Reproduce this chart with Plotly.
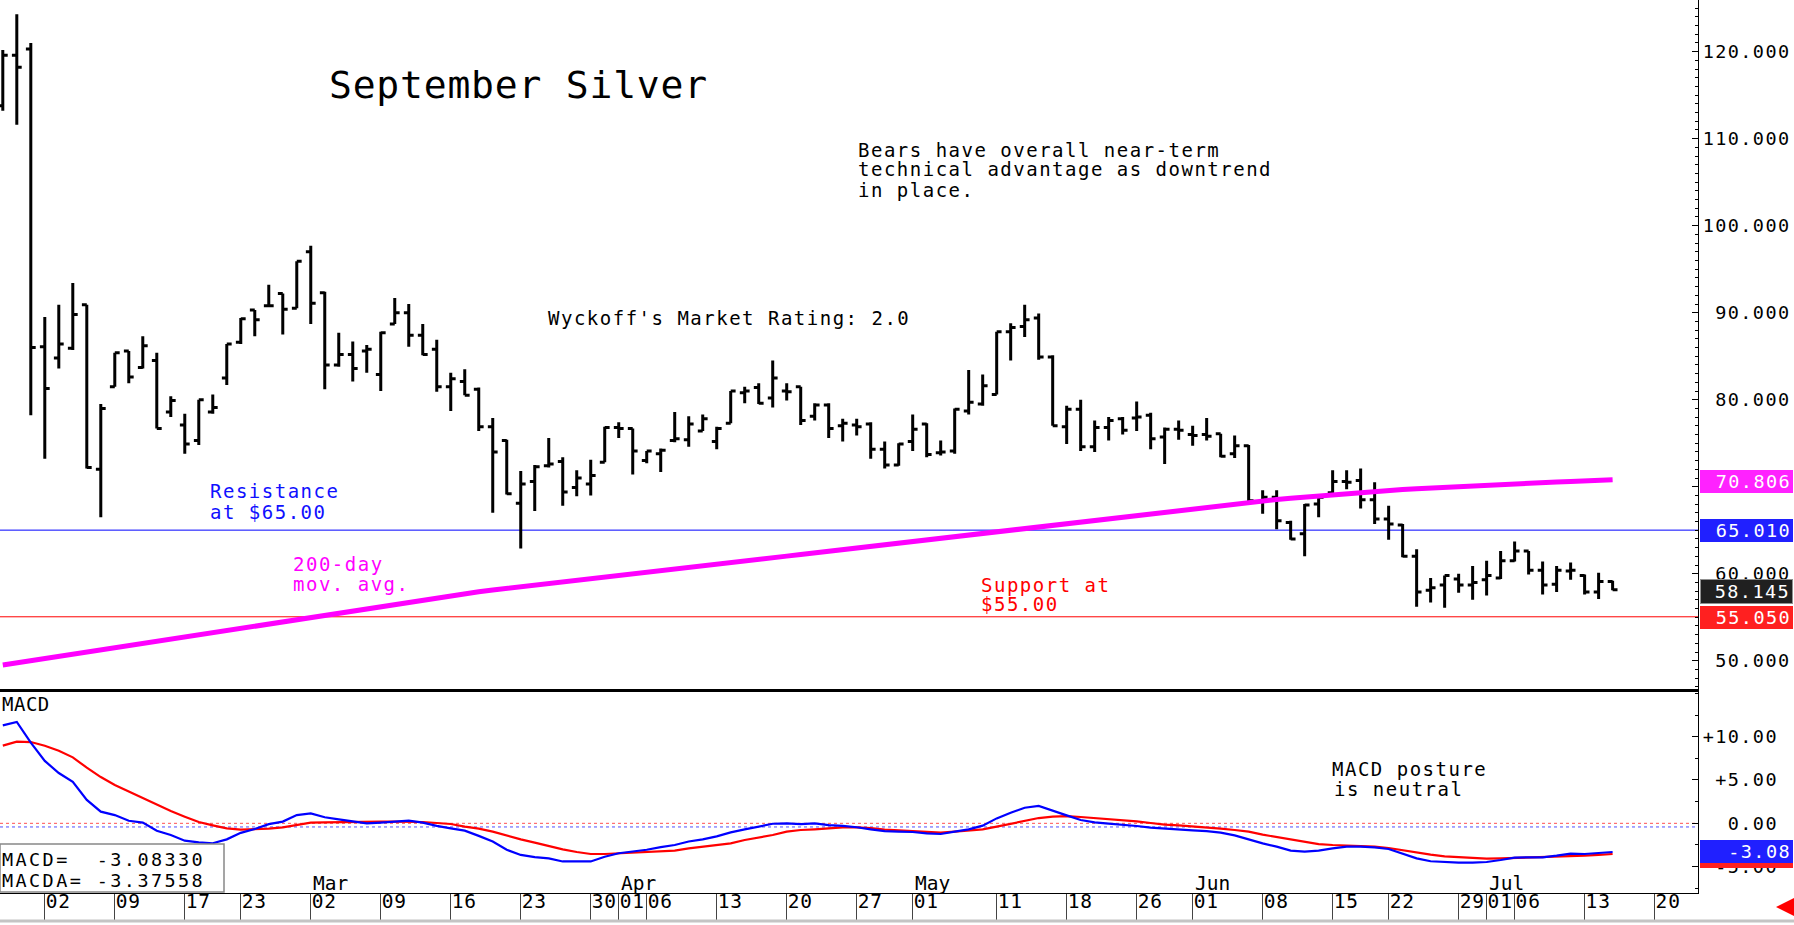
import plotly.graph_objects as go
import pandas as pd

W, H = 1794, 925
FONT = "DejaVu Sans Mono"

# ---------------- data ----------------
holidays = ['2026-02-16', '2026-04-03', '2026-05-25', '2026-06-19', '2026-07-03']
dates = [d.strftime('%Y-%m-%d') for d in pd.bdate_range('2026-01-28', '2026-07-22')
         if d.strftime('%Y-%m-%d') not in holidays]

opens = [113.8, 119.6, 120.3, 86.1, 84.8, 85.9, 90.9, 72.0, 81.5, 85.6,
         83.7, 84.5, 78.6, 77.1, 75.3, 78.6, 82.5, 86.6, 90.3, 90.8,
         92.2, 90.5, 97.0, 92.3, 84.0, 85.2, 85.6, 82.9, 88.7, 90.0,
         87.4, 85.8, 81.5, 82.1, 81.2, 76.9, 75.3, 68.1, 70.6, 72.4,
         72.9, 69.9, 70.3, 72.8, 76.8, 76.7, 73.0, 73.8, 75.3, 75.4,
         76.4, 75.2, 77.3, 80.8, 81.4, 80.2, 81.0, 81.5, 78.1, 79.4,
         77.0, 77.1, 77.2, 74.3, 72.5, 75.2, 77.2, 73.9, 74.1, 78.7,
         79.5, 80.6, 87.8, 88.4, 89.4, 84.9, 76.9, 78.9, 74.6, 76.8,
         77.8, 77.9, 78.2, 75.7, 76.6, 76.0, 76.0, 76.1, 73.8, 74.7,
         68.3, 68.8, 65.9, 64.6, 68.0, 69.3, 70.6, 70.7, 68.5, 66.3,
         65.6, 62.0, 58.1, 58.7, 59.4, 58.7, 59.3, 59.5, 61.5, 62.6,
         60.4, 58.8, 60.3, 59.8, 57.9, 59.1]
highs = [120.2, 124.3, 121.0, 89.5, 90.9, 93.4, 90.9, 79.5, 85.4, 85.6,
         87.3, 85.4, 80.4, 78.4, 80.0, 80.6, 86.4, 89.4, 90.3, 93.2,
         92.2, 95.9, 97.7, 92.4, 87.7, 86.7, 86.3, 87.8, 91.7, 91.0,
         88.7, 86.9, 83.1, 83.5, 81.4, 77.9, 75.4, 71.8, 72.5, 75.6,
         73.4, 71.9, 73.1, 76.9, 77.4, 76.7, 74.1, 74.4, 78.6, 78.1,
         78.3, 76.9, 81.0, 81.5, 81.9, 84.5, 81.9, 81.5, 79.6, 79.6,
         77.8, 77.8, 77.4, 75.2, 75.0, 78.3, 77.3, 75.3, 79.0, 83.4,
         82.9, 87.8, 88.8, 90.9, 89.9, 85.1, 79.3, 80.0, 77.6, 78.0,
         78.0, 79.8, 78.5, 76.8, 77.6, 77.0, 77.9, 76.1, 75.9, 74.8,
         69.6, 69.6, 66.1, 68.0, 68.8, 71.9, 71.9, 72.1, 70.5, 67.8,
         65.7, 62.8, 59.5, 59.8, 60.0, 60.9, 61.5, 62.6, 63.7, 62.6,
         61.4, 60.9, 61.3, 59.9, 60.1, 59.2]
lows = [113.2, 111.6, 78.2, 73.2, 83.6, 85.7, 72.1, 66.5, 81.5, 81.9,
        83.6, 76.7, 78.0, 73.8, 74.8, 78.4, 81.7, 86.4, 87.3, 90.7,
        87.5, 90.5, 88.7, 81.2, 83.8, 82.1, 83.1, 81.0, 88.7, 86.1,
        85.1, 80.9, 78.7, 80.5, 76.4, 67.0, 69.1, 62.9, 67.2, 72.2,
        67.8, 68.9, 69.0, 72.8, 75.6, 71.4, 72.7, 71.7, 75.1, 74.6,
        76.4, 74.3, 77.3, 79.6, 79.5, 79.1, 79.9, 77.1, 77.6, 75.6,
        75.2, 75.9, 73.2, 72.1, 72.4, 74.1, 73.4, 73.6, 73.8, 78.3,
        79.3, 80.6, 84.5, 87.2, 84.6, 77.0, 74.9, 74.1, 74.0, 75.3,
        76.0, 76.4, 74.3, 72.6, 75.4, 74.7, 75.3, 73.4, 73.3, 68.2,
        66.9, 65.1, 63.9, 62.0, 66.5, 69.2, 69.7, 67.5, 65.7, 63.9,
        61.9, 56.2, 56.7, 56.1, 57.8, 57.0, 57.5, 59.4, 61.4, 59.9,
        57.6, 57.9, 59.3, 57.6, 57.1, 58.1]
closes = [119.6, 118.2, 86.0, 81.3, 86.4, 89.8, 72.2, 79.0, 85.4, 82.6,
          86.2, 76.7, 79.9, 74.9, 80.0, 79.1, 86.4, 89.3, 89.2, 90.8,
          90.4, 95.9, 91.1, 84.0, 85.2, 83.6, 85.8, 87.7, 90.0, 87.4,
          85.2, 81.5, 82.4, 80.5, 76.9, 74.0, 69.2, 70.3, 72.3, 72.6,
          69.4, 71.0, 71.3, 76.8, 76.7, 74.1, 74.1, 74.2, 75.5, 77.2,
          77.8, 76.7, 81.0, 81.0, 79.6, 82.5, 80.9, 77.6, 79.4, 76.7,
          77.3, 76.9, 74.3, 72.5, 74.9, 76.6, 73.7, 74.0, 78.9, 79.7,
          81.6, 87.8, 88.3, 89.2, 84.9, 77.0, 78.9, 74.6, 76.8, 77.6,
          76.5, 78.0, 75.5, 76.6, 76.5, 75.9, 75.8, 73.5, 74.7, 68.4,
          68.8, 66.1, 64.0, 67.9, 68.8, 70.6, 70.5, 68.5, 66.3, 65.7,
          62.0, 57.9, 58.4, 59.8, 58.7, 59.0, 59.8, 61.5, 62.6, 60.4,
          58.7, 60.4, 60.4, 57.9, 59.1, 58.145]
ma200 = [49.50, 49.75, 50.00, 50.26, 50.51, 50.76, 51.01, 51.26, 51.52, 51.77,
         52.02, 52.27, 52.52, 52.78, 53.03, 53.28, 53.53, 53.78, 54.04, 54.29,
         54.54, 54.79, 55.04, 55.30, 55.55, 55.80, 56.05, 56.30, 56.56, 56.81,
         57.06, 57.31, 57.56, 57.75, 57.93, 58.12, 58.30, 58.49, 58.68, 58.86,
         59.05, 59.23, 59.42, 59.61, 59.79, 59.98, 60.16, 60.35, 60.54, 60.72,
         60.91, 61.09, 61.28, 61.47, 61.65, 61.84, 62.02, 62.21, 62.40, 62.58,
         62.77, 62.95, 63.14, 63.33, 63.51, 63.70, 63.88, 64.07, 64.26, 64.44,
         64.63, 64.83, 65.02, 65.21, 65.40, 65.59, 65.78, 65.97, 66.16, 66.35,
         66.54, 66.73, 66.92, 67.11, 67.30, 67.49, 67.68, 67.87, 68.06, 68.25,
         68.39, 68.53, 68.67, 68.81, 68.94, 69.08, 69.22, 69.36, 69.50, 69.59,
         69.68, 69.77, 69.86, 69.94, 70.03, 70.12, 70.21, 70.30, 70.36, 70.43,
         70.49, 70.55, 70.61, 70.68, 70.74, 70.81]
macd = [11.3, 11.7, 9.3, 7.2, 5.8, 4.8, 2.7, 1.35, 0.95, 0.3,
        0.08, -0.85, -1.35, -2.0, -2.2, -2.3, -1.85, -1.1, -0.65, -0.1,
        0.2, 0.95, 1.15, 0.7, 0.45, 0.2, 0.0, 0.08, 0.2, 0.3,
        0.08, -0.3, -0.58, -0.85, -1.45, -2.1, -3.05, -3.65, -3.9, -4.05,
        -4.4, -4.4, -4.4, -3.85, -3.45, -3.25, -3.05, -2.75, -2.5, -2.1,
        -1.85, -1.5, -1.05, -0.7, -0.4, -0.05, 0.0, -0.1, 0.0, -0.2,
        -0.3, -0.45, -0.7, -0.9, -0.96, -1.0, -1.16, -1.23, -0.96, -0.69,
        -0.27, 0.57, 1.23, 1.8, 2.0, 1.42, 0.92, 0.38, 0.11, -0.04,
        -0.16, -0.31, -0.5, -0.62, -0.69, -0.81, -0.89, -1.08, -1.39, -1.89,
        -2.31, -2.69, -3.15, -3.27, -3.15, -2.89, -2.69, -2.69, -2.77, -2.96,
        -3.54, -4.04, -4.38, -4.5, -4.54, -4.54, -4.46, -4.23, -3.96, -3.92,
        -3.92, -3.73, -3.5, -3.54, -3.46, -3.31]
macda = [8.96, 9.42, 9.38, 8.96, 8.38, 7.61, 6.42, 5.34, 4.42, 3.65,
         2.92, 2.15, 1.42, 0.77, 0.15, -0.23, -0.58, -0.73, -0.69, -0.62,
         -0.46, -0.16, 0.08, 0.11, 0.15, 0.15, 0.15, 0.19, 0.19, 0.19,
         0.15, 0.04, -0.08, -0.39, -0.62, -0.96, -1.43, -1.85, -2.23, -2.62,
         -3.0, -3.31, -3.54, -3.54, -3.46, -3.39, -3.31, -3.27, -3.15, -2.89,
         -2.69, -2.5, -2.31, -1.92, -1.62, -1.35, -0.96, -0.77, -0.69, -0.58,
         -0.46, -0.46, -0.54, -0.73, -0.81, -0.89, -1.0, -1.08, -0.96, -0.85,
         -0.69, -0.39, -0.08, 0.31, 0.61, 0.77, 0.84, 0.73, 0.61, 0.5,
         0.38, 0.23, 0.04, -0.16, -0.23, -0.35, -0.42, -0.62, -0.77, -0.96,
         -1.31, -1.58, -1.89, -2.19, -2.39, -2.5, -2.54, -2.62, -2.69, -2.85,
         -3.12, -3.35, -3.62, -3.81, -3.89, -4.04, -4.08, -4.04, -4.0, -3.96,
         -3.92, -3.89, -3.81, -3.73, -3.65, -3.54]

tick_dates = ['2026-02-02', '2026-02-09', '2026-02-17', '2026-02-23', '2026-03-02',
              '2026-03-09', '2026-03-16', '2026-03-23', '2026-03-30', '2026-04-01',
              '2026-04-06', '2026-04-13', '2026-04-20', '2026-04-27', '2026-05-01',
              '2026-05-11', '2026-05-18', '2026-05-26', '2026-06-01', '2026-06-08',
              '2026-06-15', '2026-06-22', '2026-06-29', '2026-07-01', '2026-07-06',
              '2026-07-13', '2026-07-20']
month_dates = ['2026-03-02', '2026-04-01', '2026-05-01', '2026-06-01', '2026-07-01']
month_names = ['Mar', 'Apr', 'May', 'Jun', 'Jul']
price_ticks = [50, 60, 70, 80, 90, 100, 110, 120]
macd_ticks = [10, 5, 0, -5]

last_macd, last_macda = -3.08330, -3.37558
ma_last, resist, support, last_close = 70.806, 65.010, 55.050, 58.145

# ---------------- helpers ----------------
NB = '\u00a0'


def ls(t, px):
    return f'<span style="letter-spacing:{px}px">{t.replace(" ", NB)}</span>'


def PX(px):
    return px / W


def PY(py):
    return 1 - py / H


xs = list(range(len(opens)))
tick_idx = [dates.index(d) for d in tick_dates]
tick_txt = [ls(d[-2:], 0.8) for d in tick_dates]
XR = [-0.2, 121.1]
XDOM = [0, 1698 / W]
PRICE_DOM = [PY(689), 1]
MACD_DOM = [PY(893), PY(689)]
PRANGE = [46.75, 125.94]
MRANGE = [-8.04, 15.5]

fig = go.Figure()
fig.add_trace(go.Scatter(x=xs, y=ma200, mode='lines', line=dict(color='#ff00ff', width=5),
                         xaxis='x', yaxis='y', hoverinfo='skip', showlegend=False))
fig.add_trace(go.Ohlc(x=xs, open=opens, high=highs, low=lows, close=closes,
                      increasing=dict(line=dict(color='black', width=3)),
                      decreasing=dict(line=dict(color='black', width=3)),
                      tickwidth=0.35, xaxis='x', yaxis='y', showlegend=False, hoverinfo='skip'))
fig.add_trace(go.Scatter(x=xs, y=macda, mode='lines', line=dict(color='#ff0000', width=2.2),
                         xaxis='x2', yaxis='y2', showlegend=False, hoverinfo='skip'))
fig.add_trace(go.Scatter(x=xs, y=macd, mode='lines', line=dict(color='#0000ff', width=2.2),
                         xaxis='x2', yaxis='y2', showlegend=False, hoverinfo='skip'))

axfont = dict(family=FONT, size=18.5, color='black')
fig.update_layout(
    width=W, height=H, autosize=False,
    margin=dict(l=0, r=0, t=0, b=0),
    paper_bgcolor='white', plot_bgcolor='white', showlegend=False,
    xaxis=dict(domain=XDOM, range=XR, anchor='y', showticklabels=False, ticks='',
               showgrid=False, zeroline=False, showline=True, linecolor='black', linewidth=3,
               rangeslider=dict(visible=False), automargin=False),
    yaxis=dict(domain=PRICE_DOM, range=PRANGE, anchor='x', side='right',
               tickmode='array', tickvals=price_ticks,
               ticktext=[ls(f'{v:.3f}'.rjust(7), 1.4) for v in price_ticks],
               tickfont=axfont, ticks='inside', ticklen=6, tickcolor='black',
               minor=dict(dtick=1, ticklen=3, ticks='inside', tickcolor='black', showgrid=False),
               showgrid=False, zeroline=False, showline=True, linecolor='black', linewidth=1,
               automargin=False),
    xaxis2=dict(domain=XDOM, range=XR, anchor='y2', tickmode='array', tickvals=tick_idx,
                ticktext=tick_txt, ticklabelposition='outside right', tickangle=0,
                ticks='outside', ticklen=26, tickwidth=1, tickcolor='#444444',
                ticklabelstandoff=-9,
                tickfont=dict(family=FONT, size=19.5, color='black'),
                showgrid=False, zeroline=False, showline=True, linecolor='black', linewidth=1,
                rangeslider=dict(visible=False), automargin=False),
    yaxis2=dict(domain=MACD_DOM, range=MRANGE, anchor='x2', side='right',
                tickmode='array', tickvals=macd_ticks,
                ticktext=[ls((('+' if v > 0 else '') + f'{v:.2f}').rjust(6), 1.4)
                          for v in macd_ticks],
                tickfont=axfont, ticks='inside', ticklen=6, tickcolor='black',
                minor=dict(dtick=2.5, ticklen=3, ticks='inside', tickcolor='black', showgrid=False),
                showgrid=False, zeroline=False, showline=True, linecolor='black', linewidth=1,
                automargin=False),
    yaxis3=dict(overlaying='y', anchor='x', side='left', range=PRANGE, tickmode='linear',
                tick0=50, dtick=5, ticks='inside', ticklen=5, tickcolor='black',
                showticklabels=False, showgrid=False, zeroline=False, showline=False),
    yaxis4=dict(overlaying='y2', anchor='x2', side='left', range=MRANGE, tickmode='linear',
                tick0=0, dtick=2.5, ticks='inside', ticklen=5, tickcolor='black',
                showticklabels=False, showgrid=False, zeroline=False, showline=False),
)

shapes = []
shapes.append(dict(type='line', xref='x domain', x0=0, x1=1, yref='y', y0=resist, y1=resist,
                   line=dict(color='#0000ff', width=1), layer='below'))
shapes.append(dict(type='line', xref='x domain', x0=0, x1=1, yref='y', y0=support, y1=support,
                   line=dict(color='#ff0000', width=1), layer='below'))
shapes.append(dict(type='line', xref='x2 domain', x0=0, x1=1, yref='y2', y0=0, y1=0,
                   line=dict(color='#ff5050', width=1, dash='dot'), layer='below'))
shapes.append(dict(type='line', xref='x2 domain', x0=0, x1=1, yref='y2', y0=-0.42, y1=-0.42,
                   line=dict(color='#5050ff', width=1, dash='dot'), layer='below'))
shapes.append(dict(type='line', xref='paper', x0=0, x1=1, yref='paper', y0=PY(921), y1=PY(921),
                   line=dict(color='#c4c4c4', width=3)))
shapes.append(dict(type='rect', xref='paper', x0=PX(0), x1=PX(224), yref='paper', y0=PY(892),
                   y1=PY(844), line=dict(color='#888888', width=1.5), fillcolor='white', layer='above'))
fig.update_layout(shapes=shapes)

ann = []


def text(t, x, y, color='black', size=19, spacing=1.5):
    ann.append(dict(text=ls(t, spacing), x=PX(x), y=PY(y), xref='paper', yref='paper',
                    xanchor='left', yanchor='middle', showarrow=False,
                    font=dict(family=FONT, size=size, color=color)))


text('September Silver', 327, 85, size=38, spacing=0.8)
text('Bears have overall near-term', 856, 150)
text('technical advantage as downtrend', 856, 169)
text('in place.', 856, 190)
text("Wyckoff's Market Rating: 2.0", 546, 318)
text('Resistance', 208, 491, color='#1010ff')
text('at $65.00', 208, 512, color='#1010ff')
text('200-day', 291, 564, color='#ff00ff')
text('mov. avg.', 291, 584, color='#ff00ff')
text('Support at', 979, 585, color='#ff0000')
text('$55.00', 979, 604, color='#ff0000')
text('MACD posture', 1330, 769)
text('is neutral', 1332, 789)
text('MACD', 0, 704, size=19, spacing=0.5)
text(f'MACD=  {last_macd:.5f}', 0, 859, size=18.5, spacing=2.4)
text(f'MACDA= {last_macda:.5f}', 0, 880, size=18.5, spacing=2.4)

for d, m in zip(month_dates, month_names):
    ann.append(dict(text=m, x=dates.index(d), y=PY(883), xref='x2', yref='paper',
                    xanchor='left', yanchor='middle', showarrow=False,
                    font=dict(family=FONT, size=19.5, color='black')))


def vbox(t, py, bg, border=None):
    ann.append(dict(text=ls(t, 1.4) if t else NB, x=PX(1746.5), y=PY(py), xref='paper', yref='paper',
                    xanchor='center', yanchor='middle', showarrow=False, align='right',
                    width=89 if border is None else 87, height=19, borderpad=2,
                    bgcolor=bg, bordercolor=border or bg, borderwidth=1 if border else 0,
                    font=dict(family=FONT, size=18.5, color='white')))


vbox(f'{ma_last:.3f}', 481, '#ff22ff')
vbox(f'{resist:.3f}', 530.5, '#2020ff')
vbox(f'{last_close:.3f}', 591, '#202020', border='#909090')
vbox(f'{support:.3f}', 617.5, '#ff2020')
vbox('', 856, '#ff2020')
vbox(f'{last_macd:.2f}', 851, '#2020ff')

ann.append(dict(text='', x=PX(1776), y=PY(907), xref='paper', yref='paper', showarrow=True,
                ax=14, ay=0, arrowhead=2, arrowsize=1, arrowwidth=4, arrowcolor='#ff0000'))
fig.update_layout(annotations=ann)

fig.write_html('out.html')
